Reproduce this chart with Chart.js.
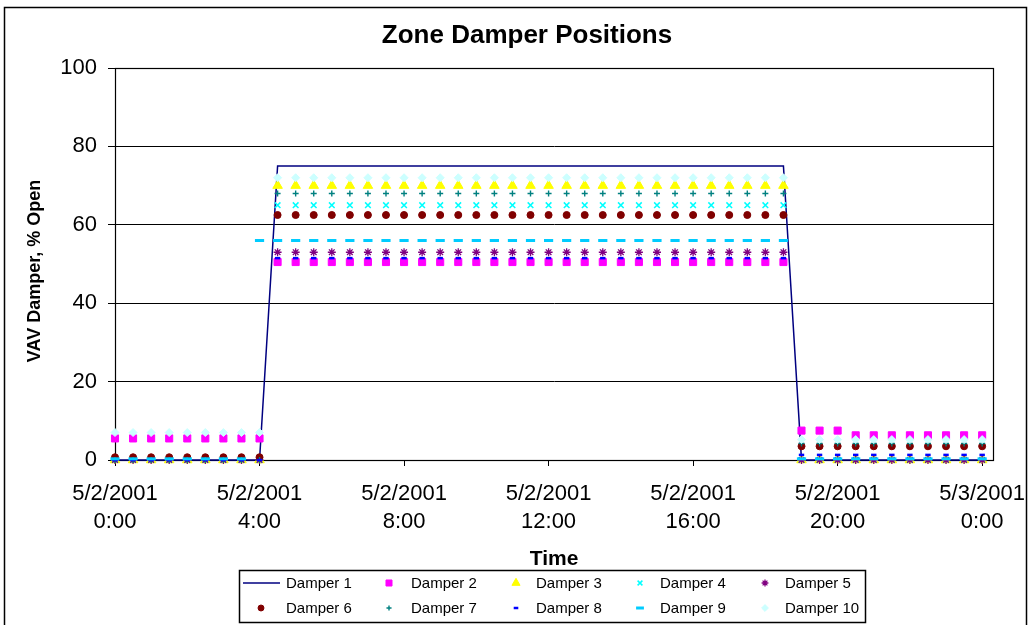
<!DOCTYPE html>
<html>
<head>
<meta charset="utf-8">
<title>Zone Damper Positions</title>
<script src="https://cdn.jsdelivr.net/npm/chart.js@4.4.1/dist/chart.umd.min.js"></script>
<style>
  body { margin: 0; background: #fff; }
  canvas { display: block; }
</style>
</head>
<body>
<canvas id="damperChart" width="1035" height="625"></canvas>
<script>
// Time of day in hours, one reading every 30 minutes
const hours = [
  0, 0.5, 1, 1.5, 2, 2.5, 3, 3.5, 4, 4.5,
  5, 5.5, 6, 6.5, 7, 7.5, 8, 8.5, 9, 9.5,
  10, 10.5, 11, 11.5, 12, 12.5, 13, 13.5, 14, 14.5,
  15, 15.5, 16, 16.5, 17, 17.5, 18, 18.5, 19, 19.5,
  20, 20.5, 21, 21.5, 22, 22.5, 23, 23.5, 24,
];

// Damper positions (% open)
const damper1 = [
  0, 0, 0, 0, 0, 0, 0, 0, 0,
  75, 75, 75, 75, 75, 75, 75, 75, 75, 75,
  75, 75, 75, 75, 75, 75, 75, 75, 75, 75,
  75, 75, 75, 75, 75, 75, 75, 75, 75,
  0, 0, 0, 0, 0, 0, 0, 0, 0, 0, 0,
];
const damper2 = [
  5.5, 5.5, 5.5, 5.5, 5.5, 5.5, 5.5, 5.5, 5.5,
  50.5, 50.5, 50.5, 50.5, 50.5, 50.5, 50.5, 50.5, 50.5, 50.5,
  50.5, 50.5, 50.5, 50.5, 50.5, 50.5, 50.5, 50.5, 50.5, 50.5,
  50.5, 50.5, 50.5, 50.5, 50.5, 50.5, 50.5, 50.5, 50.5,
  7.5, 7.5, 7.5, 6.3, 6.3, 6.3, 6.3, 6.3, 6.3, 6.3, 6.3,
];
const damper3 = [
  0, 0, 0, 0, 0, 0, 0, 0, 0,
  70, 70, 70, 70, 70, 70, 70, 70, 70, 70,
  70, 70, 70, 70, 70, 70, 70, 70, 70, 70,
  70, 70, 70, 70, 70, 70, 70, 70, 70,
  0, 0, 0, 0, 0, 0, 0, 0, 0, 0, 0,
];
const damper4 = [
  0, 0, 0, 0, 0, 0, 0, 0, 0,
  65, 65, 65, 65, 65, 65, 65, 65, 65, 65,
  65, 65, 65, 65, 65, 65, 65, 65, 65, 65,
  65, 65, 65, 65, 65, 65, 65, 65, 65,
  0, 0, 0, 0, 0, 0, 0, 0, 0, 0, 0,
];
const damper5 = [
  0, 0, 0, 0, 0, 0, 0, 0, 0,
  53, 53, 53, 53, 53, 53, 53, 53, 53, 53,
  53, 53, 53, 53, 53, 53, 53, 53, 53, 53,
  53, 53, 53, 53, 53, 53, 53, 53, 53,
  0, 0, 0, 0, 0, 0, 0, 0, 0, 0, 0,
];
const damper6 = [
  0.7, 0.7, 0.7, 0.7, 0.7, 0.7, 0.7, 0.7, 0.7,
  62.5, 62.5, 62.5, 62.5, 62.5, 62.5, 62.5, 62.5, 62.5, 62.5,
  62.5, 62.5, 62.5, 62.5, 62.5, 62.5, 62.5, 62.5, 62.5, 62.5,
  62.5, 62.5, 62.5, 62.5, 62.5, 62.5, 62.5, 62.5, 62.5,
  3.5, 3.5, 3.5, 3.5, 3.5, 3.5, 3.5, 3.5, 3.5, 3.5, 3.5,
];
const damper7 = [
  0, 0, 0, 0, 0, 0, 0, 0, 0,
  68, 68, 68, 68, 68, 68, 68, 68, 68, 68,
  68, 68, 68, 68, 68, 68, 68, 68, 68, 68,
  68, 68, 68, 68, 68, 68, 68, 68, 68,
  4.2, 4.2, 4.2, 4.2, 4.2, 4.2, 4.2, 4.2, 4.2, 4.2, 4.2,
];
const damper8 = [
  0, 0, 0, 0, 0, 0, 0, 0, 0,
  51.5, 51.5, 51.5, 51.5, 51.5, 51.5, 51.5, 51.5, 51.5, 51.5,
  51.5, 51.5, 51.5, 51.5, 51.5, 51.5, 51.5, 51.5, 51.5, 51.5,
  51.5, 51.5, 51.5, 51.5, 51.5, 51.5, 51.5, 51.5, 51.5,
  1.3, 1.3, 1.3, 1.3, 1.3, 1.3, 1.3, 1.3, 1.3, 1.3, 1.3,
];
const damper9 = [
  0.3, 0.3, 0.3, 0.3, 0.3, 0.3, 0.3, 0.3, 56,
  56, 56, 56, 56, 56, 56, 56, 56, 56, 56,
  56, 56, 56, 56, 56, 56, 56, 56, 56, 56,
  56, 56, 56, 56, 56, 56, 56, 56, 56,
  0.3, 0.3, 0.3, 0.3, 0.3, 0.3, 0.3, 0.3, 0.3, 0.3, 0.3,
];
const damper10 = [
  7, 7, 7, 7, 7, 7, 7, 7, 7,
  72, 72, 72, 72, 72, 72, 72, 72, 72, 72,
  72, 72, 72, 72, 72, 72, 72, 72, 72, 72,
  72, 72, 72, 72, 72, 72, 72, 72, 72,
  5.2, 5.2, 5.2, 5.2, 5.2, 5.2, 5.2, 5.2, 5.2, 5.2, 5.2,
];

const seriesNames = [
  "Damper 1", "Damper 2", "Damper 3", "Damper 4", "Damper 5",
  "Damper 6", "Damper 7", "Damper 8", "Damper 9", "Damper 10",
];
const seriesValues = [
  damper1, damper2, damper3, damper4, damper5,
  damper6, damper7, damper8, damper9, damper10,
];

// Axis ticks
const xTickHours = [0, 4, 8, 12, 16, 20, 24];
const xTickLabels = [
  ["5/2/2001", "0:00"],
  ["5/2/2001", "4:00"],
  ["5/2/2001", "8:00"],
  ["5/2/2001", "12:00"],
  ["5/2/2001", "16:00"],
  ["5/2/2001", "20:00"],
  ["5/3/2001", "0:00"],
];
const yTicks = [0, 20, 40, 60, 80, 100];

// Marker look for each series (Excel-like)
const styles = [
  { color: "#000080", line: true },
  { color: "#ff00ff", pointStyle: "rect", radius: 5, border: 1 },
  { color: "#ffff00", pointStyle: "triangle", radius: 5.5, border: 1 },
  { color: "#00ffff", pointStyle: "crossRot", radius: 4, border: 1.5 },
  { color: "#800080", pointStyle: "star", radius: 4, border: 1.3 },
  { color: "#800000", pointStyle: "circle", radius: 3.5, border: 1 },
  { color: "#008080", pointStyle: "cross", radius: 3, border: 1.4 },
  { color: "#0000ff", pointStyle: "line", radius: 2.7, border: 2.5 },
  { color: "#00ccff", pointStyle: "line", radius: 4.6, border: 3 },
  { color: "#ccffff", pointStyle: "rectRot", radius: 4, border: 1 },
];

const FONT = "'Liberation Sans', Arial, sans-serif";

const datasets = seriesNames.map((name, i) => {
  const s = styles[i];
  const ds = {
    label: name,
    data: hours.map((h, j) => ({ x: h, y: seriesValues[i][j] })),
    order: 10 - i,
    clip: false,
  };
  if (s.line) {
    ds.borderColor = s.color;
    ds.borderWidth = 1.5;
    ds.pointRadius = 0;
    ds.tension = 0;
  } else {
    ds.showLine = false;
    ds.pointStyle = s.pointStyle;
    ds.pointRadius = s.radius;
    ds.pointHoverRadius = s.radius;
    ds.pointBorderWidth = s.border;
    ds.pointBackgroundColor = s.color;
    ds.pointBorderColor = s.color;
  }
  return ds;
});

// Frame, plot border, title, y title and boxed legend
const decorPlugin = {
  id: "decor",
  beforeDraw(chart) {
    const ctx = chart.ctx;
    ctx.save();
    ctx.fillStyle = "#fff";
    ctx.fillRect(0, 0, chart.width, chart.height);
    ctx.strokeStyle = "#000";
    ctx.lineWidth = 1.5;
    ctx.strokeRect(4.5, 7.5, 1022, 700);
    ctx.restore();
  },
  beforeDatasetsDraw(chart) {
    const { ctx, chartArea: a } = chart;
    ctx.save();
    ctx.strokeStyle = "#000";
    ctx.lineWidth = 1.2;
    ctx.strokeRect(Math.round(a.left) + 0.5, Math.round(a.top) + 0.5,
      Math.round(a.right - a.left), Math.round(a.bottom - a.top));
    ctx.restore();
  },
  afterDraw(chart) {
    const ctx = chart.ctx;
    ctx.save();
    ctx.fillStyle = "#000";

    // chart title
    ctx.font = "bold 26px " + FONT;
    ctx.textAlign = "center";
    ctx.textBaseline = "alphabetic";
    ctx.fillText("Zone Damper Positions", 527, 43);

    // y axis title
    ctx.save();
    ctx.translate(35, 271);
    ctx.rotate(-Math.PI / 2);
    ctx.font = "bold 18px " + FONT;
    ctx.textBaseline = "middle";
    ctx.fillText("VAV Damper, % Open", 0, 0);
    ctx.restore();

    // legend box
    ctx.strokeStyle = "#000";
    ctx.lineWidth = 1.5;
    ctx.strokeRect(239.5, 570.5, 626, 52);

    const markerX = [261, 389, 516, 640, 765];
    const textX = [286, 411, 536, 660, 785];
    const rowY = [583, 608];
    ctx.font = "15px " + FONT;
    ctx.textAlign = "left";
    ctx.textBaseline = "middle";
    seriesNames.forEach((name, i) => {
      const col = i % 5;
      const y = rowY[Math.floor(i / 5)];
      const s = styles[i];
      if (s.line) {
        ctx.strokeStyle = s.color;
        ctx.lineWidth = 1.5;
        ctx.beginPath();
        ctx.moveTo(243, y);
        ctx.lineTo(280, y);
        ctx.stroke();
      } else {
        ctx.fillStyle = s.color;
        ctx.strokeStyle = s.color;
        ctx.lineWidth = s.border;
        Chart.helpers.drawPoint(ctx, {
          pointStyle: s.pointStyle,
          radius: s.radius * 0.85,
          rotation: 0,
          borderWidth: s.border,
        }, markerX[col], y);
      }
      ctx.fillStyle = "#000";
      ctx.fillText(name, textX[col], y + 1);
    });
    ctx.restore();
  },
};

const ctx = document.getElementById("damperChart").getContext("2d");
new Chart(ctx, {
  type: "line",
  data: { datasets },
  options: {
    responsive: false,
    animation: false,
    events: [],
    layout: { padding: { top: 68, right: 42, bottom: 53, left: 0 } },
    plugins: {
      legend: { display: false },
      title: { display: false },
      tooltip: { enabled: false },
    },
    scales: {
      x: {
        type: "linear",
        min: 0,
        max: 24.3,
        afterBuildTicks: (scale) => {
          scale.ticks = xTickHours.map((v) => ({ value: v }));
        },
        afterFit: (scale) => {
          scale.height = 112;
          scale.paddingLeft = 0;
          scale.paddingRight = 0;
        },
        ticks: {
          autoSkip: false,
          maxRotation: 0,
          padding: 14,
          color: "#000",
          font: { family: FONT, size: 22, lineHeight: 1.27 },
          callback: (value) => xTickLabels[xTickHours.indexOf(value)],
        },
        grid: {
          drawOnChartArea: false,
          drawTicks: true,
          tickLength: 6,
          color: "#000",
        },
        border: { display: true, color: "#000", width: 1 },
        title: {
          display: true,
          text: "Time",
          color: "#000",
          padding: { top: 0, bottom: 0 },
          font: { family: FONT, size: 21, weight: "bold" },
        },
      },
      y: {
        min: 0,
        max: 100,
        afterBuildTicks: (scale) => {
          scale.ticks = yTicks.map((v) => ({ value: v }));
        },
        afterFit: (scale) => {
          scale.width = 115;
          scale.paddingTop = 0;
          scale.paddingBottom = 0;
        },
        ticks: {
          padding: 11,
          color: "#000",
          font: { family: FONT, size: 22 },
        },
        grid: {
          color: "#000",
          lineWidth: 1,
          tickLength: 7,
        },
        border: { display: true, color: "#000", width: 1 },
      },
    },
  },
  plugins: [decorPlugin],
});
</script>
</body>
</html>
